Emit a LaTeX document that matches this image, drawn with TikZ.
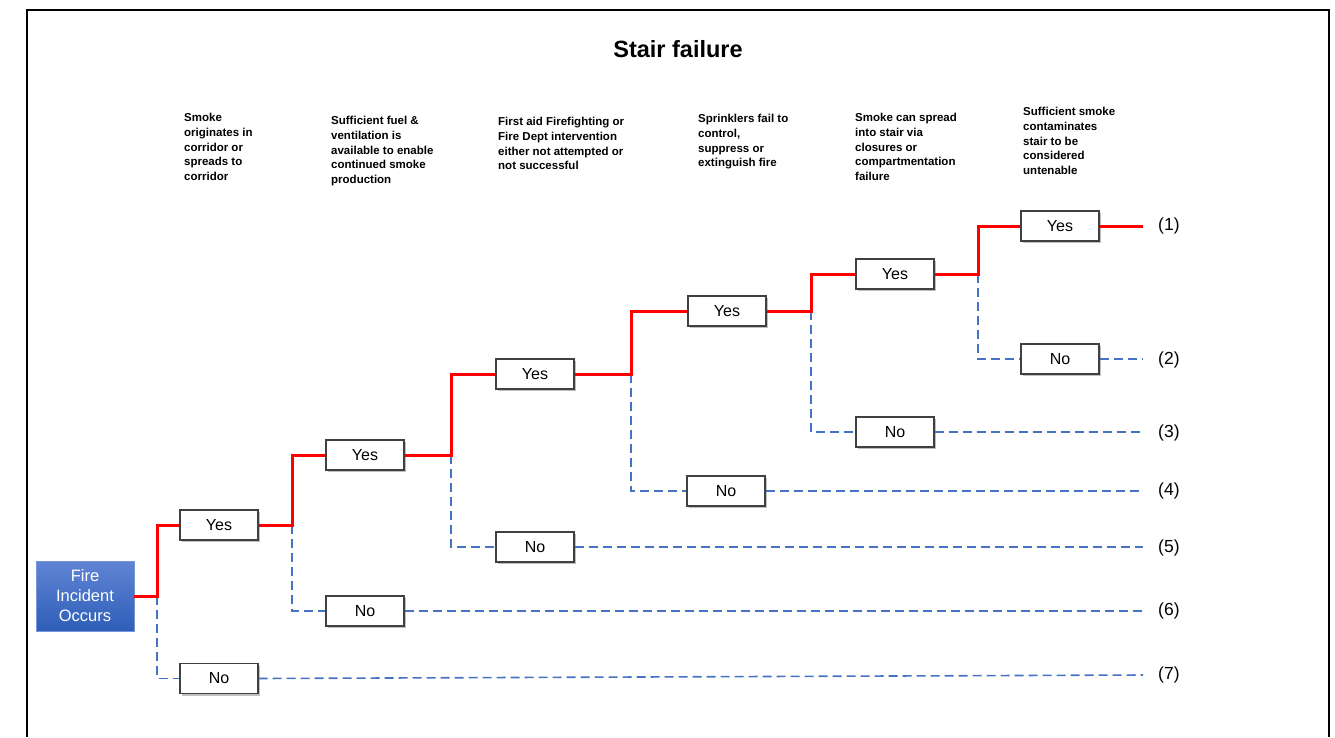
\documentclass[tikz,border=0pt]{standalone}
\usepackage{fontspec}
\setmainfont{Liberation Sans}
\usetikzlibrary{shadows}
\definecolor{yesred}{RGB}{255,0,0}
\definecolor{noblue}{RGB}{68,114,196}
\definecolor{boxedge}{RGB}{64,64,64}
\definecolor{firetop}{RGB}{96,132,212}
\definecolor{firebot}{RGB}{46,94,184}
\definecolor{fireedge}{RGB}{120,150,215}

\begin{document}
\begin{tikzpicture}[x=1pt,y=-1pt,
  outcome/.style={draw=boxedge, line width=1.2pt, fill=white,
    minimum width=78pt, minimum height=30pt, inner sep=0pt,
    font=\fontsize{16}{19}\selectfont,
    drop shadow={shadow xshift=1.5pt, shadow yshift=-2pt, opacity=0.25, fill=black}},
  header/.style={anchor=north west, align=left, inner sep=0pt,
    font=\bfseries\fontsize{11.5}{14.8}\selectfont},
  yesline/.style={draw=yesred, line width=3pt},
  noline/.style={draw=noblue, line width=1.6pt, dash pattern=on 9pt off 5pt},
  endlabel/.style={anchor=west, inner sep=0pt, font=\fontsize{17.5}{20}\selectfont},
  startbox/.style={draw=fireedge, line width=0.6pt, top color=firetop, bottom color=firebot,
    text=white, minimum width=98pt, minimum height=70pt, inner sep=0pt, align=center,
    font=\fontsize{16.5}{20}\selectfont}
]
\useasboundingbox (0,0) rectangle (1335,737);

% page frame (open at the bottom)
\draw[line width=2pt] (27,737) -- (27,10) -- (1329,10) -- (1329,737);

% title and column headings
\node[font=\bfseries\fontsize{23.5}{28}\selectfont] (title) at (678,49) {Stair failure};
\node[header] (h1) at (184,113) {Smoke\\originates in\\corridor or\\spreads to\\corridor};
\node[header] (h2) at (331,116) {Sufficient fuel \&\\ventilation is\\available to enable\\continued smoke\\production};
\node[header] (h3) at (498,117) {First aid Firefighting or\\Fire Dept intervention\\either not attempted or\\not successful};
\node[header] (h4) at (698,114) {Sprinklers fail to\\control,\\suppress or\\extinguish fire};
\node[header] (h5) at (855,113) {Smoke can spread\\into stair via\\closures or\\compartmentation\\failure};
\node[header] (h6) at (1023,107) {Sufficient smoke\\contaminates\\stair to be\\considered\\untenable};

% initiating event
\node[startbox] (fire) at (85,596) {Fire\\Incident\\Occurs};

% branch outcomes
\node[outcome] (y1) at (219,525) {Yes};
\node[outcome] (n1) at (219,678.5) {No};
\node[outcome] (y2) at (365,455) {Yes};
\node[outcome] (n2) at (365,611) {No};
\node[outcome] (y3) at (535,374) {Yes};
\node[outcome] (n3) at (535,547) {No};
\node[outcome] (y4) at (727,311) {Yes};
\node[outcome] (n4) at (726,491) {No};
\node[outcome] (y5) at (895,274) {Yes};
\node[outcome] (n5) at (895,432) {No};
\node[outcome] (y6) at (1060,226) {Yes};
\node[outcome] (n6) at (1060,359) {No};

% branch points
\coordinate (b0) at (157,596);
\coordinate (b1) at (292,525);
\coordinate (b2) at (451,455);
\coordinate (b3) at (631,374);
\coordinate (b4) at (811,311);
\coordinate (b5) at (978,274);

% sequence ends
\coordinate (e1) at (1143,226);
\coordinate (e2) at (1143,359);
\coordinate (e3) at (1143,432);
\coordinate (e4) at (1143,491);
\coordinate (e5) at (1143,547);
\coordinate (e6) at (1143,611);
\coordinate (e7) at (1143,675);

% sequence numbers
\node[endlabel] (l1) at (1158,226) {(1)};
\node[endlabel] (l2) at (1158,360) {(2)};
\node[endlabel] (l3) at (1158,433) {(3)};
\node[endlabel] (l4) at (1158,491) {(4)};
\node[endlabel] (l5) at (1158,548) {(5)};
\node[endlabel] (l6) at (1158,611) {(6)};
\node[endlabel] (l7) at (1158,675) {(7)};

% failure (No) branches
\draw[noline] (b0) |- (n1.west);
\draw[noline] (b1) |- (n2.west);
\draw[noline] (b2) |- (n3.west);
\draw[noline] (b3) |- (n4.west);
\draw[noline] (b4) |- (n5.west);
\draw[noline] (b5) |- (n6.west);
\draw[noline] (n1.east) -- (e7);
\draw[noline] (n2.east) -- (e6);
\draw[noline] (n3.east) -- (e5);
\draw[noline] (n4.east) -- (e4);
\draw[noline] (n5.east) -- (e3);
\draw[noline] (n6.east) -- (e2);

% success (Yes) path
\draw[yesline] (fire.east) -- (b0) |- (y1.west);
\draw[yesline] (y1.east) -- (b1) |- (y2.west);
\draw[yesline] (y2.east) -- (b2) |- (y3.west);
\draw[yesline] (y3.east) -- (b3) |- (y4.west);
\draw[yesline] (y4.east) -- (b4) |- (y5.west);
\draw[yesline] (y5.east) -- (b5) |- (y6.west);
\draw[yesline] (y6.east) -- (e1);
\end{tikzpicture}
\end{document}
